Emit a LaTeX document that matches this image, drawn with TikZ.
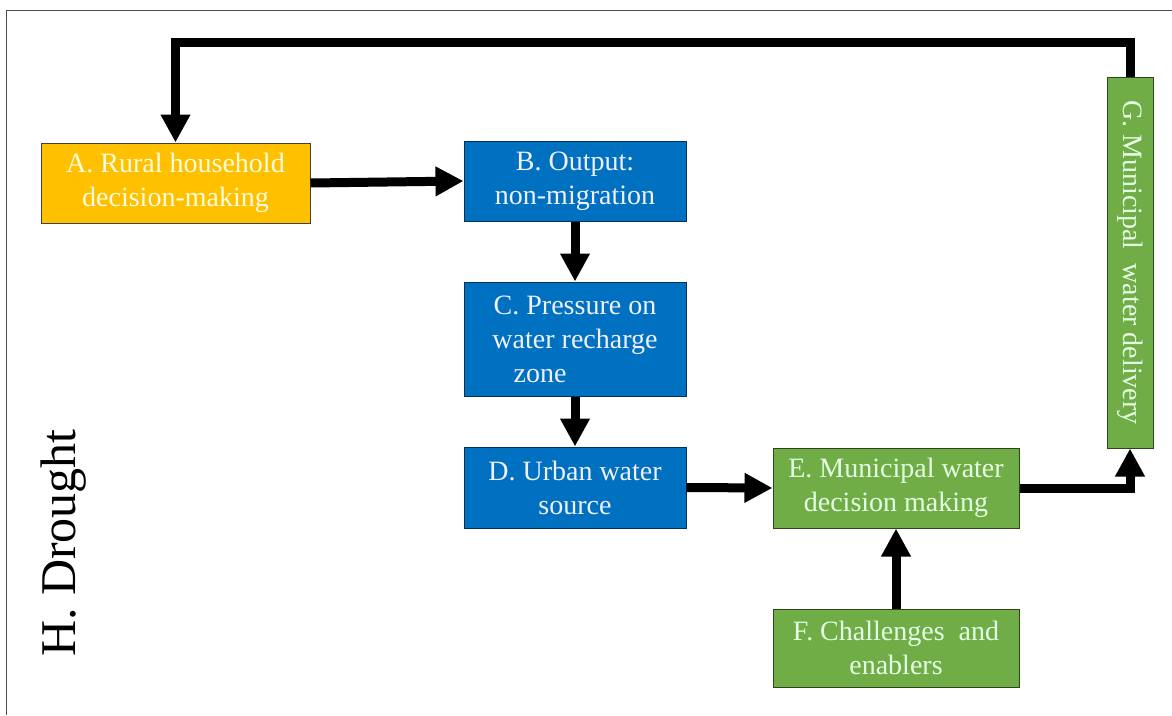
\documentclass[tikz,border=0pt]{standalone}
\usepackage{fontspec}
\setmainfont{Liberation Serif}
\usetikzlibrary{arrows.meta}
\definecolor{orA}{HTML}{FFC000}
\definecolor{blB}{HTML}{0070C0}
\definecolor{grE}{HTML}{70AD47}
\begin{document}
\begin{tikzpicture}[x=1pt,y=-1pt,
  box/.style={draw, line width=1pt, align=center, inner sep=0pt,
    font=\fontsize{28}{34}\selectfont},
  obox/.style={box, fill=orA, draw=black!75, text=yellow!12!white},
  bbox/.style={box, fill=blB, draw=blB!45!black, text=blue!6!white},
  gbox/.style={box, fill=grE, draw=grE!40!black, text=green!10!white},
  arr/.style={line width=9pt, line join=miter, -{Triangle[width=28pt,length=28pt]}}]
\useasboundingbox (0,0) rectangle (1172,715);
\draw[black!70, line width=1pt] (6,715) -- (6,10) -- (1172,10);

\node[obox, minimum width=269pt, minimum height=80pt] (A) at (175.5,183) {A. Rural household\\decision-making};
\node[bbox, minimum width=222pt, minimum height=80pt] (B) at (575,181) {B. Output:\\non-migration};
\node[bbox, minimum width=222pt, minimum height=114pt] (C) at (575,339) {C. Pressure on\\water recharge\\zone\hspace*{70pt}};
\node[bbox, minimum width=222pt, minimum height=81pt] (D) at (575,487.5) {D. Urban water\\source};
\node[gbox, minimum width=246pt, minimum height=80pt] (E) at (896,488) {E. Municipal water\\decision making};
\node[gbox, minimum width=246pt, minimum height=78pt] (F) at (896,648) {F. Challenges\ \ and\\enablers};
\node[gbox, rotate=-90, minimum width=371pt, minimum height=46pt] (G) at (1130,262.5) {G. Municipal\ \ water delivery};
\node[rotate=90, anchor=base, inner sep=0pt, font=\fontsize{50}{60}\selectfont] (H) at (75,543) {H. Drought};

\draw[arr] (A.east) -- (B.west);
\draw[arr] (B.south) -- (C.north);
\draw[arr] (C.south) -- (D.north);
\draw[arr] (D.east) -- (E.west);
\draw[arr] (F.north) -- (E.south);
\draw[arr] (E.east) -| (G.east);
\coordinate (fb) at (1130,42);
\draw[arr] (G.west) -- (fb) -| (A.north);
\end{tikzpicture}
\end{document}
